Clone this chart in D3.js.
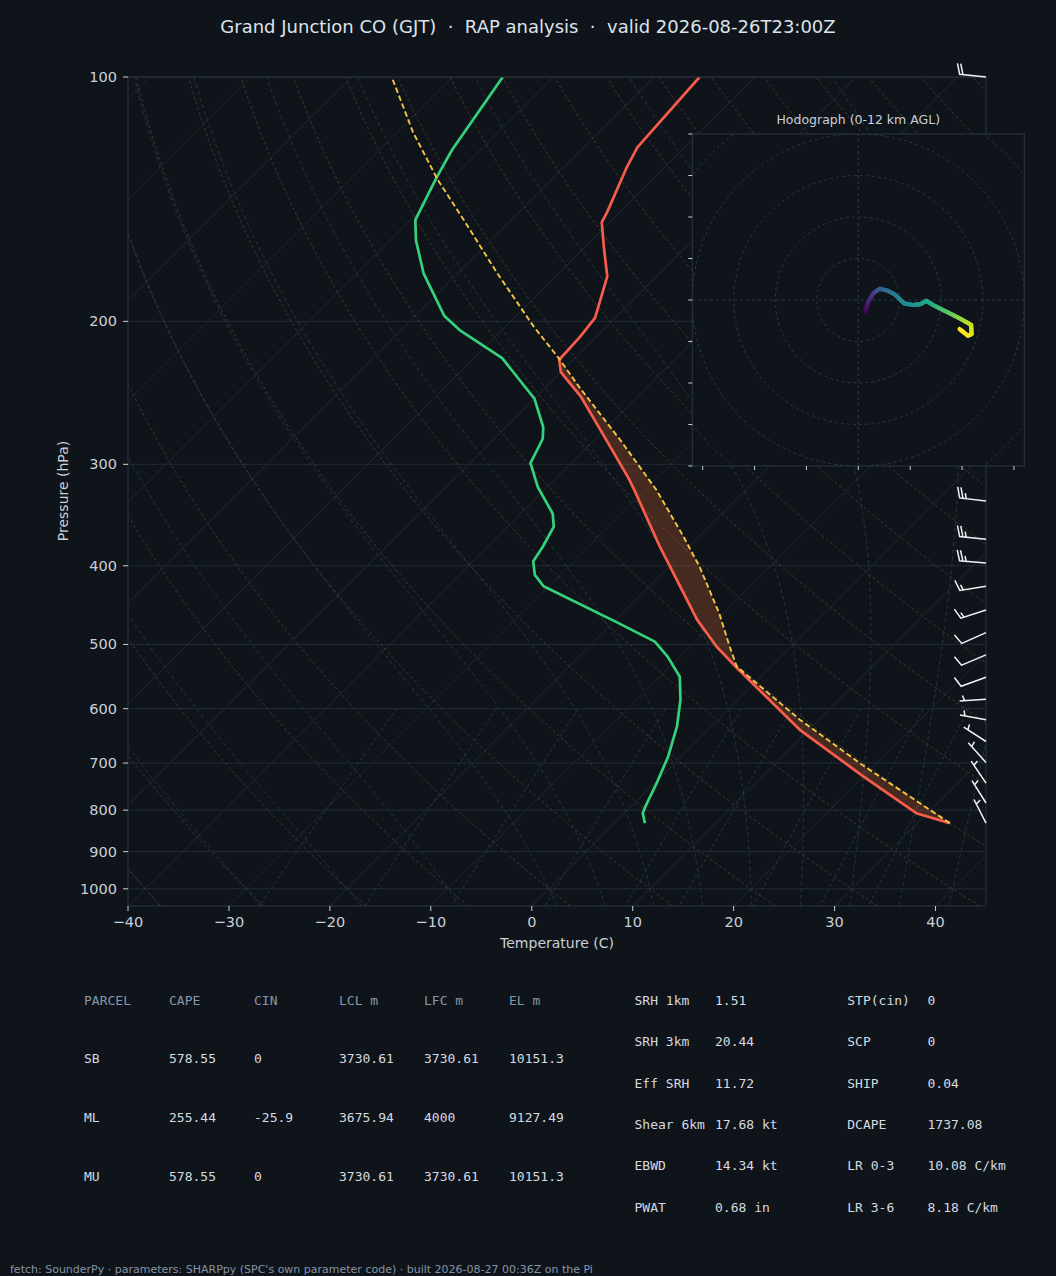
<!DOCTYPE html>
<html>
<head>
<meta charset="utf-8">
<title>Skew-T GJT</title>
<script src="https://cdn.jsdelivr.net/npm/d3@7"></script>
<style>
  body { margin: 0; background: #0f141a; }
  svg { display: block; }
  text { font-family: "DejaVu Sans", sans-serif; }
  .mono { font-family: "DejaVu Sans Mono", monospace; }
</style>
</head>
<body>
<svg id="chart" width="1056" height="1276"></svg>
<script>
// ---- sounding data (hPa, degC) ----
const tempP = [830, 807, 727, 637, 535, 503, 466, 379, 323, 312, 268, 248, 231, 223, 209, 198, 176, 163, 151, 146.5, 129, 122, 100];
const tempT = [33.2, 28.9, 20.0, 9.1, -3.2, -7.4, -12.0, -22.9, -31.0, -32.8, -41.2, -45.5, -50.0, -51.4, -51.6, -52.0, -54.9, -57.9, -60.8, -61.3, -63.8, -64.7, -65.5];

const dewP = [830, 807, 792, 741, 687, 631, 585, 548, 518, 496, 469, 424, 410.5, 395, 379, 358, 345, 320, 299, 279, 270, 249, 237, 222, 205, 197, 174.5, 159, 150, 133, 123, 100];
const dewT = [3.0, 1.8, 1.4, 0.2, -1.3, -3.4, -5.7, -8.05, -11.2, -14.0, -19.8, -30.5, -32.5, -34.0, -34.5, -35.4, -36.8, -40.9, -44.0, -45.2, -46.3, -50.0, -53.1, -57.2, -64.2, -67.1, -73.4, -77.4, -79.5, -81.6, -82.8, -85.0];

const parcelP = [830, 704, 619, 532.5, 503, 458, 401, 368, 323, 280, 241, 222, 203, 174.5, 150, 134, 117, 100];
const parcelT = [33.2, 18.8, 8.1, -3.4, -6.1, -10.4, -17.0, -21.6, -28.8, -37.4, -46.7, -51.6, -57.2, -66.1, -74.7, -81.2, -88.4, -96.0];

// wind barbs (hPa, kt, deg from)
const barbP   = [830, 784, 741, 699, 658.5, 619, 584, 548.7, 515, 483.5, 453.5, 424, 397, 371, 333, 100];
const barbSpd = [5, 5, 5, 5, 5, 5, 5, 10, 10, 10, 15, 15, 25, 25, 25, 20];
const barbDir = [333, 328, 326, 318, 303, 280, 266, 250, 247, 246, 252, 261, 275, 276, 277, 276];

// hodograph trace (kt) and height (km AGL)
const hodoU = [1.6, 2.4, 3.6, 5.2, 7.2, 9.0, 11.0, 13.2, 15.0, 16.4, 18.0, 21.2, 24.4, 27.2, 27.3, 26.4, 24.4];
const hodoV = [-2.8, -0.4, 1.6, 2.7, 2.2, 1.2, -0.8, -1.2, -1.0, -0.2, -1.2, -2.8, -4.4, -6.0, -8.2, -8.6, -7.0];
const hodoZ = [0, 1.0, 2.0, 3.4, 4.3, 5.0, 5.6, 6.0, 6.5, 7.0, 7.4, 8.7, 9.9, 10.9, 11.4, 11.7, 12.0];

// tick labels
const pTicks = [100, 200, 300, 400, 500, 600, 700, 800, 900, 1000];
const tTicks = [-40, -30, -20, -10, 0, 10, 20, 30, 40];

// parameter tables
const parcelHeader = ["PARCEL", "CAPE", "CIN", "LCL m", "LFC m", "EL m"];
const parcelRows = [
  ["SB", "578.55", "0", "3730.61", "3730.61", "10151.3"],
  ["ML", "255.44", "-25.9", "3675.94", "4000", "9127.49"],
  ["MU", "578.55", "0", "3730.61", "3730.61", "10151.3"]
];
const kinLabels = ["SRH 1km", "SRH 3km", "Eff SRH", "Shear 6km", "EBWD", "PWAT"];
const kinValues = ["1.51", "20.44", "11.72", "17.68 kt", "14.34 kt", "0.68 in"];
const compLabels = ["STP(cin)", "SCP", "SHIP", "DCAPE", "LR 0-3", "LR 3-6"];
const compValues = ["0", "0", "0.04", "1737.08", "10.08 C/km", "8.18 C/km"];

// ---- layout ----
const svg = d3.select("#chart");
const L = 128, R = 986, T = 77, B = 906;
const BG = "#0f141a", SPINE = "#2b3541", TXT = "#c9d0d8";

svg.append("rect").attr("width", 1056).attr("height", 1276).attr("fill", BG);

const xT = d3.scaleLinear().domain([-40, 45]).range([L, R]);
const yP = d3.scaleLog().domain([1050, 100]).range([B, T]);
const skew = 1; // horizontal shift per pixel of height (45 deg isotherms)
const sx = (t, p) => xT(t) + skew * (yP(1050) - yP(p));

svg.append("clipPath").attr("id", "plotclip")
  .append("rect").attr("x", L).attr("y", T).attr("width", R - L).attr("height", B - T);

const g = svg.append("g").attr("clip-path", "url(#plotclip)");
const line = d3.line().x(d => sx(d[1], d[0])).y(d => yP(d[0]));

// background thermodynamic lines
const Rd = 287.04749, Cp = 1004.6662, Lv = 2.50084e6, eps = 0.6219569;
const esat = tk => 6.112 * Math.exp(17.67 * (tk - 273.15) / (tk - 29.65));
const moistRate = (p, tk) => {
  const es = esat(tk), rs = eps * es / (p - es);
  return (Rd * tk + Lv * rs) / (Cp + Lv * Lv * rs * eps / (Rd * tk * tk)) / p;
};
function moistLine(t0) {
  const up = [], down = [];
  let p = 1000, tk = t0 + 273.15;
  up.push([p, tk - 273.15]);
  while (p > 100) {
    const h = -Math.min(5, p - 100);
    const k1 = moistRate(p, tk), k2 = moistRate(p + h / 2, tk + h / 2 * k1);
    const k3 = moistRate(p + h / 2, tk + h / 2 * k2), k4 = moistRate(p + h, tk + h * k3);
    tk += h / 6 * (k1 + 2 * k2 + 2 * k3 + k4); p += h;
    up.push([p, tk - 273.15]);
  }
  p = 1000; tk = t0 + 273.15;
  while (p < 1050) {
    const h = 5;
    const k1 = moistRate(p, tk), k2 = moistRate(p + h / 2, tk + h / 2 * k1);
    const k3 = moistRate(p + h / 2, tk + h / 2 * k2), k4 = moistRate(p + h, tk + h * k3);
    tk += h / 6 * (k1 + 2 * k2 + 2 * k3 + k4); p += h;
    down.push([p, tk - 273.15]);
  }
  return down.reverse().concat(up);
}
const pFine = d3.range(0, 121).map(i => 1050 * Math.pow(100 / 1050, i / 120));

// isotherms (skewed x grid)
d3.range(-130, 41, 10).forEach(t => {
  g.append("line")
    .attr("x1", sx(t, 1050)).attr("y1", yP(1050))
    .attr("x2", sx(t, 100)).attr("y2", yP(100))
    .attr("stroke", "#212a34").attr("stroke-width", 0.9);
});
// pressure grid
pTicks.forEach(p => {
  g.append("line").attr("x1", L).attr("x2", R).attr("y1", yP(p)).attr("y2", yP(p))
    .attr("stroke", "#222b35").attr("stroke-width", 1);
});
// dry adiabats
d3.range(-40, 246, 10).forEach(t0 => {
  const th = t0 + 273.15;
  g.append("path").datum(pFine.map(p => [p, th * Math.pow(p / 1000, 0.2857) - 273.15]))
    .attr("d", line).attr("fill", "none")
    .attr("stroke", "#4a3a2a").attr("stroke-width", 0.9).attr("stroke-dasharray", "3,2.5");
});
// moist adiabats
d3.range(-40, 0, 10).concat(d3.range(0, 46, 5)).forEach(t0 => {
  g.append("path").datum(moistLine(t0))
    .attr("d", line).attr("fill", "none")
    .attr("stroke", "#233a45").attr("stroke-width", 0.9).attr("stroke-dasharray", "4,3");
});
// mixing ratio lines
[0.0004, 0.001, 0.002, 0.004, 0.007, 0.01, 0.016, 0.024, 0.032].forEach(w => {
  const pts = d3.range(0, 31).map(i => {
    const p = 600 + i * 15;
    const e = p * w / (eps + w), lg = Math.log(e / 6.112);
    return [p, 243.5 * lg / (17.67 - lg)];
  });
  g.append("path").datum(pts).attr("d", line).attr("fill", "none")
    .attr("stroke", "#243f47").attr("stroke-width", 0.9).attr("stroke-dasharray", "3,3");
});

// CAPE shading between parcel and environment
function interpP(P, V, p) {
  for (let i = 0; i < P.length - 1; i++) {
    if (p <= P[i] && p >= P[i + 1]) {
      const f = Math.log(P[i] / p) / Math.log(P[i] / P[i + 1]);
      return V[i] + f * (V[i + 1] - V[i]);
    }
  }
  return NaN;
}
const shadeP = d3.range(0, 401).map(i => 830 * Math.pow(100 / 830, i / 400));
g.append("path")
  .datum(shadeP.map(p => {
    const te = interpP(tempP, tempT, p), tp = interpP(parcelP, parcelT, p);
    return [p, te, Math.max(te, tp)];
  }))
  .attr("d", d3.area().y(d => yP(d[0])).x0(d => sx(d[1], d[0])).x1(d => sx(d[2], d[0])))
  .attr("fill", "#c8602e").attr("fill-opacity", 0.3);

// profiles
g.append("path").datum(d3.zip(dewP, dewT)).attr("d", line).attr("fill", "none")
  .attr("stroke", "#34d27b").attr("stroke-width", 2.7).attr("stroke-linejoin", "round");
g.append("path").datum(d3.zip(tempP, tempT)).attr("d", line).attr("fill", "none")
  .attr("stroke", "#f85d4b").attr("stroke-width", 2.7).attr("stroke-linejoin", "round");
g.append("path").datum(d3.zip(parcelP, parcelT)).attr("d", line).attr("fill", "none")
  .attr("stroke", "#f5c443").attr("stroke-width", 1.9).attr("stroke-dasharray", "5.5,3");

// frame
svg.append("rect").attr("x", L).attr("y", T).attr("width", R - L).attr("height", B - T)
  .attr("fill", "none").attr("stroke", SPINE).attr("stroke-width", 1);

// y axis
pTicks.forEach(p => {
  svg.append("line").attr("x1", L - 5).attr("x2", L).attr("y1", yP(p)).attr("y2", yP(p))
    .attr("stroke", TXT).attr("stroke-width", 1);
  svg.append("text").attr("x", L - 11).attr("y", yP(p)).attr("dy", "0.35em")
    .attr("text-anchor", "end").attr("font-size", 14.5).attr("fill", TXT).text(p);
});
// x axis
tTicks.forEach(t => {
  svg.append("line").attr("x1", xT(t)).attr("x2", xT(t)).attr("y1", B).attr("y2", B + 5)
    .attr("stroke", TXT).attr("stroke-width", 1);
  svg.append("text").attr("x", xT(t)).attr("y", B + 21).attr("text-anchor", "middle")
    .attr("font-size", 14.5).attr("fill", TXT).text(t < 0 ? "\u2212" + Math.abs(t) : t);
});
svg.append("text").attr("x", 557).attr("y", 948).attr("text-anchor", "middle")
  .attr("font-size", 14).attr("fill", TXT).text("Temperature (C)");
svg.append("text").attr("transform", "translate(68,491) rotate(-90)").attr("text-anchor", "middle")
  .attr("font-size", 14).attr("fill", TXT).text("Pressure (hPa)");

// title
svg.append("text").attr("x", 528).attr("y", 33).attr("text-anchor", "middle")
  .attr("font-size", 18).attr("fill", "#dde3ea").style("white-space", "pre")
  .text("Grand Junction CO (GJT)  \u00b7  RAP analysis  \u00b7  valid 2026-08-26T23:00Z");

// wind barbs along right edge
function barbVerts(bx, by, spd, dir) {
  const len = 26.5, fh = 0.4 * len, fw = 0.25 * len, sp = 0.125 * len;
  const rad = dir * Math.PI / 180;
  const u = -spd * Math.sin(rad), v = -spd * Math.cos(rad);
  const th = Math.atan2(v, u) + Math.PI / 2;
  const r5 = Math.round(spd / 5) * 5;
  const nflag = Math.floor(r5 / 50), nbarb = Math.floor((r5 % 50) / 10), half = (r5 % 10) >= 5;
  const verts = [[0, 0]];
  let off = len;
  for (let i = 0; i < nflag; i++) {
    if (off !== len) off += sp / 2;
    verts.push([0, off], [fh, off - fw / 2], [0, off - fw]);
    off -= fw + sp;
  }
  for (let i = 0; i < nbarb; i++) {
    verts.push([0, off], [fh, off + fw / 2], [0, off]);
    off -= sp;
  }
  if (half) {
    if (off === len) { verts.push([0, off]); off -= 1.5 * sp; }
    verts.push([0, off], [fh / 2, off + fw / 4], [0, off]);
  }
  const c = Math.cos(th), s = Math.sin(th);
  return verts.map(([X, Y]) => [bx + X * c - Y * s, by - (X * s + Y * c)]);
}
barbP.forEach((p, i) => {
  svg.append("path").attr("d", d3.line()(barbVerts(R, yP(p), barbSpd[i], barbDir[i])))
    .attr("fill", "none").attr("stroke", "#eef2f6").attr("stroke-width", 1.5)
    .attr("stroke-linejoin", "miter");
});

// ---- hodograph inset ----
const hx = d3.scaleLinear().domain([-40, 40]).range([692.3, 1024.3]);
const hy = d3.scaleLinear().domain([-40, 40]).range([466, 134]);
const hodo = svg.append("g");
hodo.append("clipPath").attr("id", "hodoclip")
  .append("rect").attr("x", hx(-40)).attr("y", hy(40)).attr("width", hx(40) - hx(-40)).attr("height", hy(-40) - hy(40));
hodo.append("rect").attr("x", hx(-40)).attr("y", hy(40)).attr("width", hx(40) - hx(-40)).attr("height", hy(-40) - hy(40))
  .attr("fill", BG);
const hg = hodo.append("g").attr("clip-path", "url(#hodoclip)");
[10, 20, 30, 40, 50].forEach(r => {
  hg.append("circle").attr("cx", hx(0)).attr("cy", hy(0)).attr("r", hx(r) - hx(0))
    .attr("fill", "none").attr("stroke", "#2c3846").attr("stroke-width", 1).attr("stroke-dasharray", "3,3");
});
hg.append("line").attr("x1", hx(-40)).attr("x2", hx(40)).attr("y1", hy(0)).attr("y2", hy(0))
  .attr("stroke", "#2c3846").attr("stroke-dasharray", "3,3");
hg.append("line").attr("x1", hx(0)).attr("x2", hx(0)).attr("y1", hy(-40)).attr("y2", hy(40))
  .attr("stroke", "#2c3846").attr("stroke-dasharray", "3,3");
const hcolor = d3.scaleSequential(d3.interpolateViridis).domain([0, 12]);
for (let i = 0; i < hodoU.length - 1; i++) {
  const n = 6;
  for (let j = 0; j < n; j++) {
    const a = j / n, b = (j + 1) / n;
    const lerp = (arr, f) => arr[i] + f * (arr[i + 1] - arr[i]);
    hg.append("line")
      .attr("x1", hx(lerp(hodoU, a))).attr("y1", hy(lerp(hodoV, a)))
      .attr("x2", hx(lerp(hodoU, b))).attr("y2", hy(lerp(hodoV, b)))
      .attr("stroke", hcolor(lerp(hodoZ, (a + b) / 2))).attr("stroke-width", 4.2)
      .attr("stroke-linecap", "round");
  }
}
hodo.append("rect").attr("x", hx(-40)).attr("y", hy(40)).attr("width", hx(40) - hx(-40)).attr("height", hy(-40) - hy(40))
  .attr("fill", "none").attr("stroke", SPINE).attr("stroke-width", 1);
d3.range(-40, 41, 10).forEach(v => {
  hodo.append("line").attr("x1", hx(-40) - 4).attr("x2", hx(-40)).attr("y1", hy(v)).attr("y2", hy(v))
    .attr("stroke", TXT).attr("stroke-width", 1);
});
[-37.5, -25, -12.5, 0, 12.5, 25, 37.5].forEach(u => {
  hodo.append("line").attr("x1", hx(u)).attr("x2", hx(u)).attr("y1", hy(-40)).attr("y2", hy(-40) + 4)
    .attr("stroke", TXT).attr("stroke-width", 1);
});
hodo.append("text").attr("x", hx(0)).attr("y", 124).attr("text-anchor", "middle")
  .attr("font-size", 12.5).attr("fill", TXT).text("Hodograph (0-12 km AGL)");

// ---- parameter tables ----
const colX = [84, 169, 254, 339, 424, 509];
const rowY = [1000, 1058, 1117, 1176];
parcelHeader.forEach((h, j) => {
  svg.append("text").attr("class", "mono").attr("x", colX[j]).attr("y", rowY[0] + 4.5)
    .attr("font-size", 13).attr("fill", "#8797aa").text(h);
});
parcelRows.forEach((row, i) => {
  row.forEach((cell, j) => {
    svg.append("text").attr("class", "mono").attr("x", colX[j]).attr("y", rowY[i + 1] + 4.5)
      .attr("font-size", 13).attr("fill", "#d5dae0").text(cell);
  });
});
const rY = [1000, 1041.5, 1083, 1124.3, 1165.7, 1207.2];
kinLabels.forEach((lab, i) => {
  svg.append("text").attr("class", "mono").attr("x", 634.5).attr("y", rY[i] + 4.5)
    .attr("font-size", 13).attr("fill", "#d5dae0").text(lab);
  svg.append("text").attr("class", "mono").attr("x", 715).attr("y", rY[i] + 4.5)
    .attr("font-size", 13).attr("fill", "#d5dae0").text(kinValues[i]);
  svg.append("text").attr("class", "mono").attr("x", 847.3).attr("y", rY[i] + 4.5)
    .attr("font-size", 13).attr("fill", "#d5dae0").text(compLabels[i]);
  svg.append("text").attr("class", "mono").attr("x", 927.5).attr("y", rY[i] + 4.5)
    .attr("font-size", 13).attr("fill", "#d5dae0").text(compValues[i]);
});

// footer
svg.append("text").attr("x", 10).attr("y", 1273).attr("font-size", 11).attr("fill", "#8494a6")
  .text("fetch: SounderPy \u00b7 parameters: SHARPpy (SPC's own parameter code) \u00b7 built 2026-08-27 00:36Z on the Pi");
</script>
</body>
</html>
